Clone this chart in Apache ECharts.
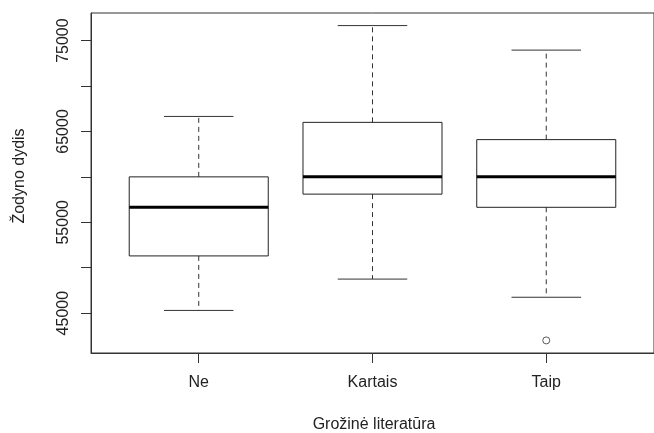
<!DOCTYPE html>
<html>
<head>
<meta charset="utf-8">
<script src="https://cdn.jsdelivr.net/npm/echarts@6/dist/echarts.min.js"></script>
<style>
html,body{margin:0;padding:0;background:#fff;}
#chart{width:654px;height:433px;}
</style>
</head>
<body>
<div id="chart"></div>
<script>
// ---- data ----
const categories = ['Ne', 'Kartais', 'Taip'];
const whiskerLow  = [45300, 48750, 46750];
const q1          = [51300, 58100, 56650];
const median      = [56650, 60000, 60000];
const q3          = [60000, 66000, 64100];
const whiskerHigh = [66650, 76650, 73950];
const outlierCategory = ['Taip'];
const outlierValue    = [42000];
const yTicks  = [45000, 50000, 55000, 60000, 65000, 70000, 75000];
const yLabels = [45000, 55000, 65000, 75000];
const xTitle = 'Grožinė literatūra';
const yTitle = 'Žodyno dydis';

// ---- build ----
const boxData = categories.map((c, i) => [i + 1, whiskerLow[i], q1[i], median[i], q3[i], whiskerHigh[i]]);
const outData = outlierCategory.map((c, i) => [categories.indexOf(c) + 1, outlierValue[i]]);
const allVals = whiskerLow.concat(whiskerHigh, outlierValue);
const dMin = Math.min.apply(null, allVals), dMax = Math.max.apply(null, allVals);
const pad = (dMax - dMin) * 0.04;
const xPad = categories.length * 0.04; // R: range [0.5, n+0.5] extended 4%

const FONT = '"Liberation Sans", Arial, sans-serif';
const TXT = '#222';
const LINE = '#333';

const chart = echarts.init(document.getElementById('chart'), null, {renderer: 'canvas'});
chart.setOption({
  animation: false,
  backgroundColor: '#fff',
  grid: {left: 91, top: 13, right: -5.4, bottom: 80, show: true, borderColor: LINE, borderWidth: 1, backgroundColor: 'transparent'},
  xAxis: {
    type: 'value',
    min: 0.5 - xPad, max: categories.length + 0.5 + xPad,
    axisLine: {show: true, onZero: false, lineStyle: {color: LINE, width: 1}},
    axisTick: {show: true, length: 10, inside: false, customValues: categories.map((c, i) => i + 1), lineStyle: {color: LINE}},
    axisLabel: {show: true, customValues: categories.map((c, i) => i + 1), formatter: v => categories[Math.round(v) - 1] || '',
                fontFamily: FONT, fontSize: 16, color: TXT, margin: 22},
    splitLine: {show: false}
  },
  yAxis: {
    type: 'value',
    min: dMin - pad, max: dMax + pad,
    axisLine: {show: true, onZero: false, lineStyle: {color: LINE, width: 1}},
    axisTick: {show: true, length: 10, customValues: yTicks, lineStyle: {color: LINE}},
    axisLabel: {show: true, customValues: yLabels, formatter: v => String(Math.round(v)), rotate: 90,
                fontFamily: FONT, fontSize: 16, color: TXT, margin: 19},
    splitLine: {show: false}
  },
  graphic: [
    {type: 'text', x: 374, y: 425, style: {text: xTitle, font: '16px ' + FONT, fill: TXT, textAlign: 'center', textVerticalAlign: 'middle'}},
    {type: 'text', x: 20, y: 176, rotation: Math.PI / 2, style: {text: yTitle, font: '16px ' + FONT, fill: TXT, textAlign: 'center', textVerticalAlign: 'middle'}}
  ],
  series: [
    {
      type: 'custom',
      data: boxData,
      encode: {x: 0, y: [1, 2, 3, 4, 5]},
      renderItem: function (params, api) {
        const x = api.value(0);
        const bw = api.size([0.8, 0])[0];
        const cw = api.size([0.4, 0])[0];
        const pLo = api.coord([x, api.value(1)]);
        const pQ1 = api.coord([x, api.value(2)]);
        const pMd = api.coord([x, api.value(3)]);
        const pQ3 = api.coord([x, api.value(4)]);
        const pHi = api.coord([x, api.value(5)]);
        const cx = pMd[0];
        const dash = {stroke: '#333', lineWidth: 1, lineDash: [5, 4], fill: null};
        return {
          type: 'group',
          children: [
            {type: 'line', shape: {x1: cx, y1: pQ3[1], x2: cx, y2: pHi[1]}, style: dash},
            {type: 'line', shape: {x1: cx, y1: pQ1[1], x2: cx, y2: pLo[1]}, style: dash},
            {type: 'line', shape: {x1: cx - cw / 2, y1: pHi[1], x2: cx + cw / 2, y2: pHi[1]}, style: {stroke: '#333', lineWidth: 1}},
            {type: 'line', shape: {x1: cx - cw / 2, y1: pLo[1], x2: cx + cw / 2, y2: pLo[1]}, style: {stroke: '#333', lineWidth: 1}},
            {type: 'rect', shape: {x: cx - bw / 2, y: pQ3[1], width: bw, height: pQ1[1] - pQ3[1]}, style: {stroke: '#222', lineWidth: 1, fill: 'transparent'}},
            {type: 'line', shape: {x1: cx - bw / 2, y1: pMd[1], x2: cx + bw / 2, y2: pMd[1]}, style: {stroke: '#000', lineWidth: 3}}
          ]
        };
      }
    },
    {
      type: 'scatter',
      data: outData,
      symbol: 'circle',
      symbolSize: 7,
      itemStyle: {color: '#fff', borderColor: '#333', borderWidth: 1}
    }
  ]
});
</script>
</body>
</html>
